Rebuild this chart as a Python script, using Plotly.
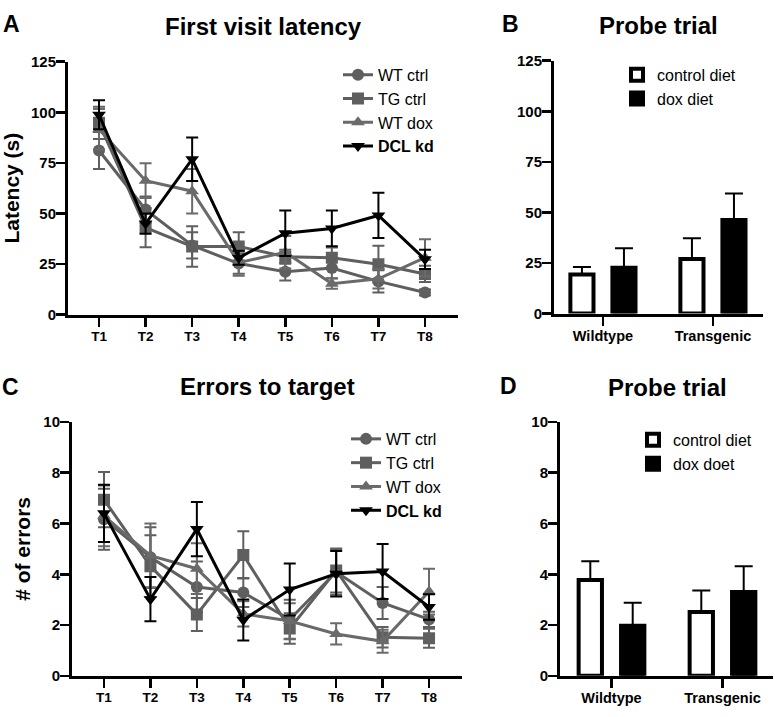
import plotly.graph_objects as go

# ---------------- data ----------------
trials = ["T1", "T2", "T3", "T4", "T5", "T6", "T7", "T8"]
series_names = ["WT ctrl", "TG ctrl", "WT dox", "<b>DCL kd</b>"]

# Panel A: first visit latency (s)
lat_wt_ctrl = [81.1, 51.9, 34.2, 25.2, 21.2, 23.0, 16.4, 10.9]
lat_wt_ctrl_err = [9.1, 6.5, 6.5, 5.0, 4.3, 5.0, 5.5, 1.5]
lat_tg_ctrl = [94.8, 43.0, 33.7, 33.7, 28.6, 28.1, 24.9, 20.1]
lat_tg_ctrl_err = [8.0, 9.7, 10.0, 7.0, 3.5, 5.0, 9.1, 4.0]
lat_wt_dox = [91.6, 66.2, 61.0, 25.7, 30.8, 15.3, 17.7, 28.1]
lat_wt_dox_err = [10.0, 8.6, 11.0, 6.5, 8.0, 2.5, 4.8, 9.2]
lat_dcl_kd = [98.8, 45.0, 76.8, 28.1, 40.2, 42.6, 49.0, 27.3]
lat_dcl_kd_err = [7.2, 5.0, 10.8, 3.5, 11.2, 8.8, 11.2, 4.8]

# Panel C: errors to target
err_wt_ctrl = [6.17, 4.67, 3.50, 3.28, 2.22, 4.09, 2.87, 2.22]
err_wt_ctrl_sem = [1.2, 1.18, 1.0, 0.57, 0.78, 0.9, 0.63, 0.3]
err_tg_ctrl = [6.94, 4.32, 2.42, 4.76, 1.86, 4.15, 1.52, 1.48]
err_tg_ctrl_sem = [1.09, 1.22, 0.65, 0.93, 0.6, 0.87, 0.4, 0.37]
err_wt_dox = [6.30, 4.73, 4.22, 2.44, 2.16, 1.65, 1.36, 3.32]
err_wt_dox_sem = [1.2, 1.27, 1.0, 0.5, 0.7, 0.42, 0.45, 0.9]
err_dcl_kd = [6.40, 3.02, 5.78, 2.20, 3.40, 4.02, 4.11, 2.71]
err_dcl_kd_sem = [1.13, 0.87, 1.07, 0.81, 1.02, 0.9, 1.08, 0.5]

# Panels B / D: probe trial
genotypes = ["Wildtype", "Transgenic"]
probeB_ctrl = [19.3, 27.0]
probeB_ctrl_err = [3.7, 10.2]
probeB_dox = [22.7, 46.3]
probeB_dox_err = [9.6, 13.1]
probeD_ctrl = [3.77, 2.51]
probeD_ctrl_err = [0.74, 0.85]
probeD_dox = [1.97, 3.30]
probeD_dox_err = [0.91, 1.02]
barB_names = ["control diet", "dox diet"]
barD_names = ["control diet", "dox doet"]

ticksA = [0, 25, 50, 75, 100, 125]
ticksC = [0, 2, 4, 6, 8, 10]

# ---------------- style ----------------
W, H = 775, 717
FONT = "Liberation Sans, Arial, sans-serif"
GRAY = "#5f5f5f"
GRAY2 = "#6a6a6a"
colors = [GRAY, GRAY, GRAY2, "black"]
symbols = ["circle", "square", "triangle-up", "triangle-down"]


def px_x(p):
    return p / W


def px_y(p):
    return 1 - p / H


fig = go.Figure()

line_sets = [
    ("x", "y", "legend", [lat_wt_ctrl, lat_tg_ctrl, lat_wt_dox, lat_dcl_kd],
     [lat_wt_ctrl_err, lat_tg_ctrl_err, lat_wt_dox_err, lat_dcl_kd_err]),
    ("x3", "y3", "legend3", [err_wt_ctrl, err_tg_ctrl, err_wt_dox, err_dcl_kd],
     [err_wt_ctrl_sem, err_tg_ctrl_sem, err_wt_dox_sem, err_dcl_kd_sem]),
]
for xa, ya, leg, vals, errs in line_sets:
    for i in range(4):
        fig.add_trace(go.Scatter(
            x=trials, y=vals[i], name=series_names[i], mode="lines+markers",
            xaxis=xa, yaxis=ya, legend=leg,
            line=dict(color=colors[i], width=3),
            marker=dict(symbol=symbols[i], size=12, color=colors[i]),
            error_y=dict(type="data", array=errs[i], visible=True,
                         color=colors[i], thickness=2, width=6),
        ))

bar_sets = [
    ("x2", "y2", "legend2", [probeB_ctrl, probeB_dox], [probeB_ctrl_err, probeB_dox_err], barB_names),
    ("x4", "y4", "legend4", [probeD_ctrl, probeD_dox], [probeD_ctrl_err, probeD_dox_err], barD_names),
]
for xa, ya, leg, vals, errs, names in bar_sets:
    for i, fill in enumerate(["white", "black"]):
        fig.add_trace(go.Bar(
            x=genotypes, y=vals[i], name=names[i], xaxis=xa, yaxis=ya, legend=leg,
            marker=dict(color=fill, line=dict(color="black", width=4)),
            error_y=dict(type="data", array=errs[i], arrayminus=[0] * len(errs[i]),
                         symmetric=False, visible=True, color="black", thickness=2, width=9),
        ))

ytickf = dict(family=FONT, size=15, color="black", weight="bold")
xtickf = dict(family=FONT, size=13.5, color="black", weight="bold")
axis_common = dict(showline=True, linewidth=3, linecolor="black", ticks="outside",
                   ticklen=9, tickwidth=2.5, tickcolor="black", showgrid=False,
                   zeroline=False, fixedrange=True)
xcommon = dict(axis_common, type="category", ticklabelstandoff=-2, tickfont=xtickf)
ycommon = dict(axis_common, ticklabelstandoff=-3, tickfont=ytickf)

legfont = dict(family=FONT, size=16, color="black")

fig.update_layout(
    width=W, height=H, autosize=False,
    margin=dict(l=0, r=0, t=0, b=0),
    paper_bgcolor="white", plot_bgcolor="white",
    font=dict(family=FONT, color="black"),
    hovermode=False,
    barmode="group", bargap=0.236, bargroupgap=0.45,
    showlegend=True,
    xaxis=dict(xcommon, domain=[px_x(68), px_x(458)], anchor="y", range=[-0.666, 7.709]),
    yaxis=dict(ycommon, domain=[px_y(313), px_y(54)], anchor="x",
               range=[0, 125], tickvals=ticksA,
               title=dict(text="<b>Latency (s)</b>", font=dict(size=21, family=FONT), standoff=14)),
    xaxis3=dict(xcommon, domain=[px_x(72), px_x(462)], anchor="y3", range=[-0.689, 7.71]),
    yaxis3=dict(ycommon, domain=[px_y(683), px_y(423)], anchor="x3",
                range=[0, 10], tickvals=ticksC,
                title=dict(text="<b># of errors</b>", font=dict(size=21, family=FONT), standoff=7)),
    xaxis2=dict(xcommon, domain=[px_x(554), px_x(763)], anchor="y2", range=[-0.445, 1.455],
                tickfont=dict(xtickf, size=14.5)),
    yaxis2=dict(ycommon, domain=[px_y(312), px_y(53)], anchor="x2",
                range=[0, 125], tickvals=ticksA),
    xaxis4=dict(xcommon, domain=[px_x(560), px_x(773)], anchor="y4", range=[-0.464, 1.455],
                tickfont=dict(xtickf, size=14.5)),
    yaxis4=dict(ycommon, domain=[px_y(683), px_y(423)], anchor="x4",
                range=[0, 10], tickvals=ticksC),
    legend=dict(x=px_x(338), y=px_y(50), xanchor="left", yanchor="top",
                bgcolor="rgba(0,0,0,0)", font=legfont, tracegroupgap=0, itemwidth=30),
    legend3=dict(x=px_x(346), y=px_y(423), xanchor="left", yanchor="top",
                 bgcolor="rgba(0,0,0,0)", font=legfont, tracegroupgap=0, itemwidth=30),
    legend2=dict(x=px_x(617), y=px_y(50), xanchor="left", yanchor="top",
                 bgcolor="rgba(0,0,0,0)", font=legfont, tracegroupgap=0, itemwidth=30),
    legend4=dict(x=px_x(633), y=px_y(424), xanchor="left", yanchor="top",
                 bgcolor="rgba(0,0,0,0)", font=legfont, tracegroupgap=0, itemwidth=30),
)

annots = [
    ("<b>First visit latency</b>", 263, 18, 24, "center"),
    ("<b>Errors to target</b>", 267, 387, 24, "center"),
    ("<b>Probe trial</b>", 658, 17, 24, "center"),
    ("<b>Probe trial</b>", 667, 388, 24, "center"),
    ("<b>A</b>", 1, 15, 23, "left"),
    ("<b>B</b>", 500, 15, 23, "left"),
    ("<b>C</b>", 0, 387, 23, "left"),
    ("<b>D</b>", 498, 386, 23, "left"),
]
for text, x, y, size, xa in annots:
    fig.add_annotation(text=text, x=px_x(x), y=px_y(y), xref="paper", yref="paper",
                       xanchor=xa, yanchor="middle", showarrow=False,
                       font=dict(family=FONT, size=size, color="black"))

# remove the default page margin so the figure sits at the window's top-left corner
fig.write_html("out.html", config={"displayModeBar": False, "staticPlot": True},
               post_script="document.body.style.margin='0';")
